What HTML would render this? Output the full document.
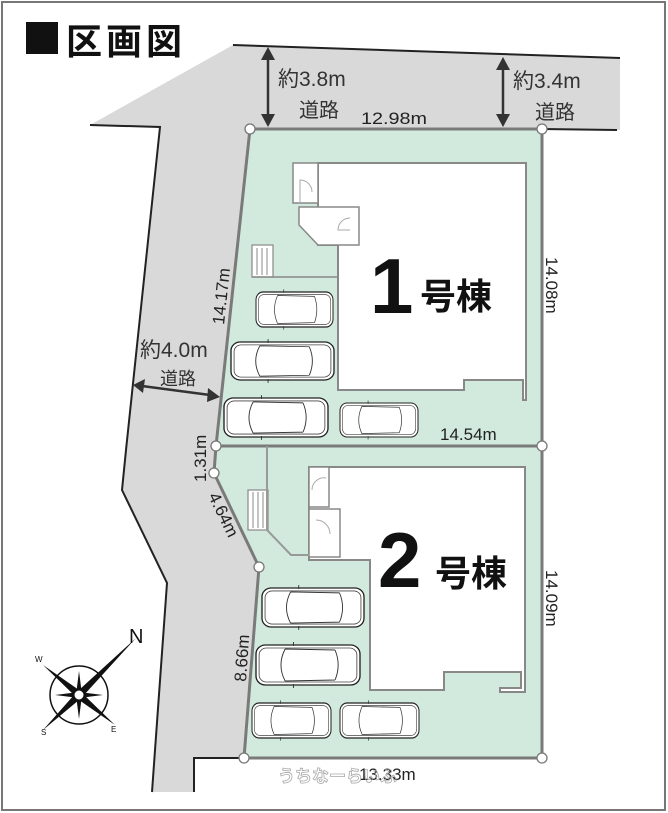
<!DOCTYPE html>
<html><head><meta charset="utf-8"><style>
html,body{margin:0;padding:0;background:#fff;}
svg{display:block;}
text{font-family:"Liberation Sans","Noto Sans CJK JP",sans-serif;}
</style></head><body>
<svg width="668" height="813" viewBox="0 0 668 813" xmlns="http://www.w3.org/2000/svg">
<defs>
<g id="car">
<rect x="0" y="0" width="100" height="40" rx="9" fill="#fff" stroke="#222" stroke-width="1.3"/>
<rect x="3" y="3" width="94" height="34" rx="7" fill="none" stroke="#444" stroke-width="0.8"/>
<path d="M28 4 Q20 20 28 36 M76 5 Q82 20 76 35 M28 4 L76 5 M28 36 L76 35" fill="none" stroke="#333" stroke-width="0.9"/>
<path d="M36 1 L36 -3 M36 39 L36 43" stroke="#333" stroke-width="0.9"/>
</g>
</defs>
<rect x="2" y="2" width="663" height="808" fill="#fff" stroke="#777" stroke-width="2"/>
<polygon points="90,125 233,45 620,58 620,130 250,129 216,446 214,473 259,567 244,758 194,758 194,792 152,792 167,583 122,490 126,450 160,127" fill="#d9d9d9"/>
<polyline points="233,45 620,58" fill="none" stroke="#222" stroke-width="2"/>
<polyline points="90,125 160,127 126,450 122,490 167,583 152,792" fill="none" stroke="#222" stroke-width="2"/>
<polyline points="244,758 194,758 194,792" fill="none" stroke="#222" stroke-width="2"/>
<line x1="542" y1="129" x2="617" y2="130" stroke="#222" stroke-width="2"/>
<polygon points="250,129 542,129 542,446 216,446" fill="#d2eadd" stroke="#7a7a7a" stroke-width="3"/>
<polygon points="216,446 542,446 542,758 244,758 259,567 214,473" fill="#d2eadd" stroke="#7a7a7a" stroke-width="3"/>
<polygon points="318,163 526,163 526,400 523,400 523,380 464,380 464,390 338,390 338,245 318,245" fill="#fff" stroke="#888" stroke-width="2"/>
<rect x="293" y="163" width="25" height="40" fill="#fff" stroke="#888" stroke-width="1.5"/>
<path d="M300 203 L300 180 A12 12 0 0 1 312 192" fill="none" stroke="#aaa"/>
<polygon points="299,207 359,207 359,245 318,245 299,225" fill="#fff" stroke="#888" stroke-width="1.5"/>
<path d="M350 230 L338 230 A12 12 0 0 1 350 218" fill="none" stroke="#aaa"/>
<rect x="252" y="245" width="21" height="32" fill="#fff" stroke="#888" stroke-width="1.2"/>
<path d="M257 248V275M262 248V275M267 248V275" stroke="#888"/>
<line x1="252" y1="277" x2="338" y2="277" stroke="#888" stroke-width="1.5"/>
<text x="370" y="313" font-size="78" font-weight="bold" fill="#111">1</text>
<text x="420" y="309" font-size="36" font-weight="bold" fill="#111">号棟</text>
<polygon points="309,467 525,467 525,692 500,692 500,688 521,688 521,672 444,672 444,690 370,690 370,560 309,560" fill="#fff" stroke="#888" stroke-width="2"/>
<rect x="309" y="467" width="20" height="40" fill="#fff" stroke="#888" stroke-width="1.5"/>
<path d="M312 490 A12 12 0 0 1 326 478" fill="none" stroke="#aaa"/>
<rect x="309" y="509" width="31" height="48" fill="#fff" stroke="#888" stroke-width="1.5"/>
<path d="M316 520 A14 14 0 0 1 330 534" fill="none" stroke="#aaa"/>
<rect x="248" y="490" width="20" height="40" fill="#fff" stroke="#888" stroke-width="1.2"/>
<path d="M253 492V528M258 492V528M263 492V528" stroke="#888"/>
<polyline points="267,446 267,530 291,555 309,555" fill="none" stroke="#999" stroke-width="2"/>
<text x="378" y="587" font-size="78" font-weight="bold" fill="#111">2</text>
<text x="435" y="586" font-size="36" font-weight="bold" fill="#111">号棟</text>
<use href="#car" transform="translate(256,292) scale(0.77,0.875)"/>
<use href="#car" transform="translate(231,342) scale(1.03,0.95)"/>
<use href="#car" transform="translate(224,398) scale(1.04,0.975)"/>
<use href="#car" transform="translate(340,403) scale(0.78,0.85)"/>
<use href="#car" transform="translate(262,588) scale(1.02,0.975)"/>
<use href="#car" transform="translate(256,645) scale(1.04,1)"/>
<use href="#car" transform="translate(252,703) scale(0.79,0.875)"/>
<use href="#car" transform="translate(340,703) scale(0.79,0.875)"/>
<g fill="#fff" stroke="#777" stroke-width="1.3">
<circle cx="250" cy="129" r="5"/><circle cx="542" cy="129" r="5"/>
<circle cx="216" cy="446" r="5"/><circle cx="542" cy="446" r="5"/>
<circle cx="214" cy="473" r="5"/><circle cx="259" cy="567" r="5"/>
<circle cx="244" cy="758" r="5"/><circle cx="542" cy="758" r="5"/>
</g>
<rect x="26" y="22" width="32" height="32" fill="#111"/>
<text x="66" y="54" font-size="36" font-weight="bold" fill="#111" letter-spacing="4">区画図</text>
<g stroke="#333" stroke-width="2.5" fill="#333">
<line x1="268" y1="56" x2="268" y2="118"/>
<polygon points="261,60 275,60 268,47" stroke="none"/>
<polygon points="261,114 275,114 268,127" stroke="none"/>
<line x1="503" y1="66" x2="503" y2="118"/>
<polygon points="496,70 510,70 503,57" stroke="none"/>
<polygon points="496,114 510,114 503,127" stroke="none"/>
<line x1="142" y1="386" x2="210" y2="395"/>
<polygon points="133,385 145,379 143,393" stroke="none"/>
<polygon points="220,397 208,388 207,402" stroke="none"/>
</g>
<g fill="#333" font-size="21">
<text x="278" y="86">約3.8m</text>
<text x="299" y="117" font-size="20">道路</text>
<text x="513" y="88">約3.4m</text>
<text x="535" y="119" font-size="20">道路</text>
<text x="140" y="357">約4.0m</text>
<text x="160" y="385" font-size="18">道路</text>
</g>
<g fill="#222" font-size="17">
<text x="361" y="124" textLength="66" lengthAdjust="spacingAndGlyphs">12.98m</text>
<text x="440" y="440">14.54m</text>
<text x="359" y="780">13.33m</text>
<text transform="translate(546,257) rotate(90)">14.08m</text>
<text transform="translate(546,570) rotate(90)">14.09m</text>
<text transform="translate(224,325) rotate(-84)">14.17m</text>
<text transform="translate(206,482) rotate(-90)">1.31m</text>
<text transform="translate(208,496) rotate(64)">4.64m</text>
<text transform="translate(246,682) rotate(-86)">8.66m</text>
</g>
<text x="278" y="782" font-size="17" font-weight="bold" fill="none" stroke="#aaa" stroke-width="0.8">うちなーらいふ</text>
<g transform="translate(79,695)">
<circle r="29" fill="#fff" stroke="#111" stroke-width="1.5"/>
<polygon points="0,-5 57,-57 5,0 0,5 -36,35 -5,0" fill="#111"/>
<polygon points="-5,0 -36,-30 0,-5 5,0 36,30 0,5" fill="#111"/>
<polygon points="-3,0 0,-24 3,0 0,24" fill="#111"/>
<polygon points="0,-3 24,0 0,3 -24,0" fill="#111"/>
<circle r="5" fill="#fff" stroke="#111"/>
<text x="50" y="-52" font-size="20" fill="#111">N</text>
<text x="-44" y="-33" font-size="8" fill="#111">W</text>
<text x="-38" y="40" font-size="8" fill="#111">S</text>
<text x="32" y="37" font-size="8" fill="#111">E</text>
</g>
</svg>
</body></html>
